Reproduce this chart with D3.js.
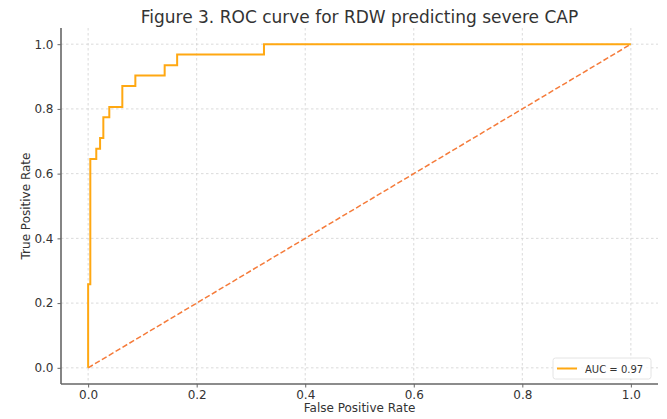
<!DOCTYPE html>
<html><head><meta charset="utf-8">
<script src="https://cdn.jsdelivr.net/npm/d3@7"></script>
<style>
body{margin:0;background:#fff;}
svg{display:block;font-family:"DejaVu Sans",sans-serif;}
</style></head>
<body><svg id="c" width="667" height="419"></svg>
<script>
const titleText = "Figure 3. ROC curve for RDW predicting severe CAP";
const xLabel = "False Positive Rate";
const yLabel = "True Positive Rate";
const legendLabel = "AUC = 0.97";
const tickValues = [0, 0.2, 0.4, 0.6, 0.8, 1.0];
const fpr = [0, 0, 0.004, 0.004, 0.015, 0.015, 0.022, 0.022, 0.028, 0.028, 0.039, 0.039, 0.063, 0.063, 0.087, 0.087, 0.141, 0.141, 0.164, 0.164, 0.324, 0.324, 1.0];
const tpr = [0, 0.258, 0.258, 0.645, 0.645, 0.677, 0.677, 0.710, 0.710, 0.774, 0.774, 0.806, 0.806, 0.871, 0.871, 0.903, 0.903, 0.935, 0.935, 0.968, 0.968, 1.0, 1.0];
const diagX = [0, 1];
const diagY = [0, 1];

const svg = d3.select("#c");
const L = 61, R = 658, T = 28, B = 384;
const x = d3.scaleLinear().domain([-0.05, 1.05]).range([L, R]);
const y = d3.scaleLinear().domain([-0.05, 1.05]).range([B, T]);

// grid
const grid = svg.append("g");
grid.selectAll("line.vx").data(tickValues).join("line")
  .attr("x1", d => x(d)).attr("x2", d => x(d)).attr("y1", T).attr("y2", B)
  .attr("stroke", "#d0d0d0").attr("stroke-width", 0.8).attr("stroke-dasharray", "2.5,2.5");
grid.selectAll("line.hy").data(tickValues).join("line")
  .attr("y1", d => y(d)).attr("y2", d => y(d)).attr("x1", L).attr("x2", R)
  .attr("stroke", "#d0d0d0").attr("stroke-width", 0.8).attr("stroke-dasharray", "2.5,2.5");

// axes
const fmt = d3.format(".1f");
const xa = svg.append("g").attr("transform", `translate(0,${B})`)
  .call(d3.axisBottom(x).tickValues(tickValues).tickFormat(fmt).tickSize(3.5).tickPadding(3));
const ya = svg.append("g").attr("transform", `translate(${L},0)`)
  .call(d3.axisLeft(y).tickValues(tickValues).tickFormat(fmt).tickSize(3.5).tickPadding(4));
[xa, ya].forEach(a => {
  a.select(".domain").attr("stroke", "#666").attr("stroke-width", 1.6);
  a.selectAll(".tick line").attr("stroke", "#666").attr("stroke-width", 1);
  a.selectAll(".tick text").attr("fill", "#333").attr("font-size", 12).attr("font-family", "DejaVu Sans");
});
ya.select(".domain").attr("d", `M0,${T}V${B}`);
xa.select(".domain").attr("d", `M${L},0H${R}`);

// diagonal
const line = d3.line().x(d => x(d[0])).y(d => y(d[1]));
svg.append("path").datum(diagX.map((v, i) => [v, diagY[i]]))
  .attr("d", line).attr("fill", "none").attr("stroke", "#F57B3A").attr("stroke-width", 1.5)
  .attr("stroke-dasharray", "5.5,2.5");

// ROC curve
svg.append("path").datum(fpr.map((v, i) => [v, tpr[i]]))
  .attr("d", line).attr("fill", "none").attr("stroke", "#FFA812").attr("stroke-width", 2);

// title & labels
svg.append("text").attr("x", (L + R) / 2).attr("y", 23).attr("text-anchor", "middle")
  .attr("font-size", 17).attr("fill", "#333").text(titleText);
svg.append("text").attr("x", (L + R) / 2).attr("y", 412).attr("text-anchor", "middle")
  .attr("font-size", 12).attr("fill", "#333").text(xLabel);
svg.append("text").attr("transform", `translate(30,${(T + B) / 2}) rotate(-90)`).attr("text-anchor", "middle")
  .attr("font-size", 12).attr("fill", "#333").text(yLabel);

// legend
const lg = svg.append("g");
lg.append("rect").attr("x", 553).attr("y", 358).attr("width", 98).attr("height", 21).attr("rx", 2.5)
  .attr("fill", "#fff").attr("fill-opacity", 0.8).attr("stroke", "#ddd").attr("stroke-width", 0.8);
lg.append("line").attr("x1", 557).attr("x2", 577).attr("y1", 368.5).attr("y2", 368.5)
  .attr("stroke", "#FFA812").attr("stroke-width", 2);
lg.append("text").attr("x", 585).attr("y", 372.5).attr("font-size", 10).attr("fill", "#333").text(legendLabel);
</script></body></html>
